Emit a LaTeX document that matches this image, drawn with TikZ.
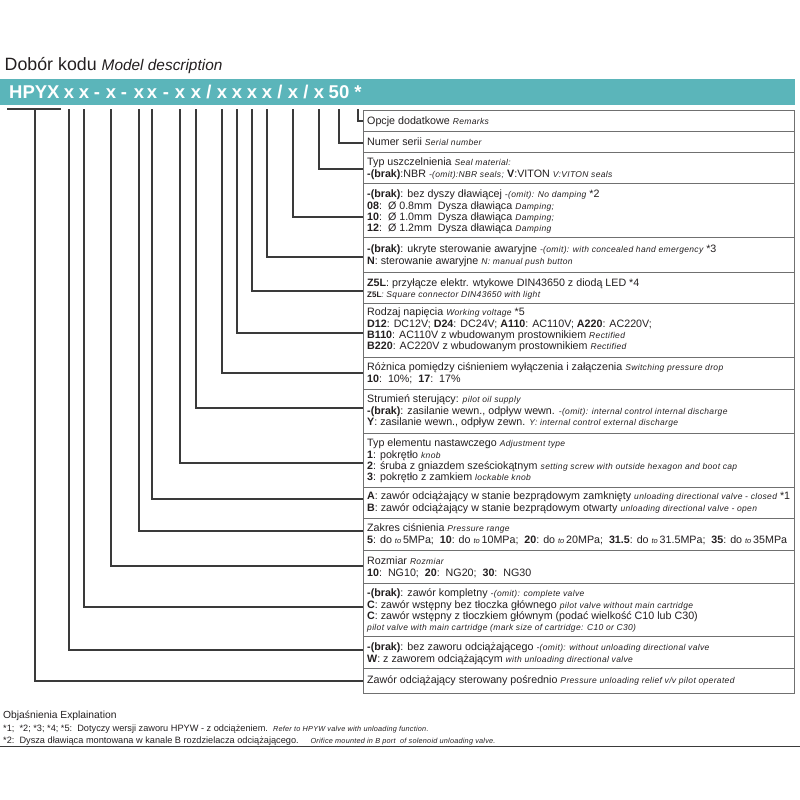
\documentclass[tikz,border=0pt]{standalone}
\usepackage{fontspec}
\setmainfont{Liberation Sans}
\newfontfamily\engfont[LetterSpace=4]{Liberation Sans}
\newfontfamily\engnfont[LetterSpace=3]{Liberation Sans}
\definecolor{bannercol}{HTML}{5BB5BA}
\definecolor{linecol}{HTML}{3A3A3A}
\definecolor{boxcol}{HTML}{707070}
\definecolor{txtcol}{HTML}{231F20}
\newcommand\eng[1]{{\engfont\fontsize{8.5}{9}\selectfont\itshape #1}}
\newcommand\engto[1]{{\fontsize{7.5}{8}\selectfont\itshape #1}}
\newcommand\engn[1]{{\engnfont\fontsize{7.3}{8}\selectfont\itshape #1}}
\tikzset{
  conn/.style={draw=linecol, line width=1.1pt},
  cell/.style={draw=boxcol, line width=0.8pt},
  rowtext/.style={anchor=base west, inner sep=0pt, text width=430pt, align=flush left, text=txtcol, font=\fontsize{10.7}{11.3}\selectfont},
  code/.style={anchor=base, inner sep=0pt, text=white, font=\fontsize{18.5}{20}\selectfont\bfseries},
  note/.style={anchor=base west, inner sep=0pt, text=txtcol, font=\fontsize{9.2}{10}\selectfont},
}
\begin{document}
\begin{tikzpicture}[x=1pt,y=-1pt]
\useasboundingbox (0,0) rectangle (800,800);
% title
\node[anchor=base west, inner sep=0pt, text=txtcol] (title) at (4.5,70.5)
  {{\fontsize{17.8}{20}\selectfont Dobór kodu}\hspace{5pt}{\fontsize{15.4}{18}\selectfont\itshape Model description}};
% banner
\fill[bannercol] (0,79) rectangle (795,105);
\node[code, anchor=base west] (h) at (9,98) {HPYX};
\foreach \nm/\xx/\tt in {c1/69/x, c2/84/x, d1/97/-, c3/111/x, d2/124/-, c4/139/x, c5/152/x, d3/166/-, c6/180/x, c7/196/x, s1/209/{/}, c8/222/x, c9/237/x, c10/252/x, c11/267/x, s2/280/{/}, c12/293/x, s3/306/{/}, c13/319/x, c14/339/50, c15/358/*}
  \node[code] (\nm) at (\xx,98) {\tt};
% cells
\foreach \a/\b in {110/131, 131/152, 152/183, 183/237, 237/272, 272/303, 303/357, 357/389, 389/433, 433/487, 487/518, 518/550, 550/583, 583/636, 636/668, 668/693}
  \draw[cell] (363,\a) rectangle (794,\b);
% row texts
\node[rowtext] (r1) at (367,124.8) {Opcje dodatkowe \eng{Remarks}};
\node[rowtext] (r2) at (367,145.8) {Numer serii \eng{Serial number}};
\node[rowtext] (r3) at (367,165.8) {Typ uszczelnienia \eng{Seal material:}\\
  \textbf{-(brak)}:NBR \eng{-(omit):NBR seals;} \textbf{V}:VITON \eng{V:VITON seals}};
\node[rowtext] (r4) at (367,197.8) {\textbf{-(brak)}: bez dyszy dławiącej \eng{-(omit): No damping} *2\\
  \textbf{08}:\ \ Ø 0.8mm\ \ Dysza dławiąca \eng{Damping;}\\
  \textbf{10}:\ \ Ø 1.0mm\ \ Dysza dławiąca \eng{Damping;}\\
  \textbf{12}:\ \ Ø 1.2mm\ \ Dysza dławiąca \eng{Damping}};
\node[rowtext] (r5) at (367,252.8) {\textbf{-(brak)}: ukryte sterowanie awaryjne \eng{-(omit): with concealed hand emergency} *3\\
  \textbf{N}: sterowanie awaryjne \eng{N: manual push button}};
\node[rowtext] (r6) at (367,286.8) {\textbf{Z5L}: przyłącze elektr. wtykowe DIN43650 z diodą LED *4\\[-1pt]
  {\fontsize{8}{8}\selectfont\textbf{Z5L}}\eng{: Square connector DIN43650 with light}};
\node[rowtext] (r7) at (367,315.8) {Rodzaj napięcia \eng{Working voltage} *5\\
  \textbf{D12}: DC12V; \textbf{D24}: DC24V; \textbf{A110}: AC110V; \textbf{A220}: AC220V;\\
  \textbf{B110}: AC110V z wbudowanym prostownikiem \eng{Rectified}\\
  \textbf{B220}: AC220V z wbudowanym prostownikiem \eng{Rectified}};
\node[rowtext] (r8) at (367,370.8) {Różnica pomiędzy ciśnieniem wyłączenia i załączenia \eng{Switching pressure drop}\\
  \textbf{10}:\ \ 10\%;\ \ \textbf{17}:\ \ 17\%};
\node[rowtext] (r9) at (367,402.8) {Strumień sterujący: \eng{pilot oil supply}\\
  \textbf{-(brak)}: zasilanie wewn., odpływ wewn. \eng{-(omit): internal control internal discharge}\\
  \textbf{Y}: zasilanie wewn., odpływ zewn. \eng{Y: internal control external discharge}};
\node[rowtext] (r10) at (367,446.8) {Typ elementu nastawczego \eng{Adjustment type}\\
  \textbf{1}: pokrętło \eng{knob}\\
  \textbf{2}: śruba z gniazdem sześciokątnym \eng{setting screw with outside hexagon and boot cap}\\
  \textbf{3}: pokrętło z zamkiem \eng{lockable knob}};
\node[rowtext] (r11) at (367,499.8) {\textbf{A}: zawór odciążający w stanie bezprądowym zamknięty \eng{unloading directional valve - closed} *1\\
  \textbf{B}: zawór odciążający w stanie bezprądowym otwarty \eng{unloading directional valve - open}};
\node[rowtext] (r12) at (367,531.8) {Zakres ciśnienia \eng{Pressure range}\\
  \textbf{5}: do \engto{to}\,5MPa;\ \ \textbf{10}: do \engto{to}\,10MPa;\ \ \textbf{20}: do \engto{to}\,20MPa;\ \ \textbf{31.5}: do \engto{to}\,31.5MPa;\ \ \textbf{35}: do \engto{to}\,35MPa};
\node[rowtext] (r13) at (367,564.8) {Rozmiar \eng{Rozmiar}\\
  \textbf{10}:\ \ NG10;\ \ \textbf{20}:\ \ NG20;\ \ \textbf{30}:\ \ NG30};
\node[rowtext] (r14) at (367,596.8) {\textbf{-(brak)}: zawór kompletny \eng{-(omit): complete valve}\\
  \textbf{C}: zawór wstępny bez tłoczka głównego \eng{pilot valve without main cartridge}\\
  \textbf{C}: zawór wstępny z tłoczkiem głównym (podać wielkość C10 lub C30)\\
  \eng{pilot valve with main cartridge (mark size of cartridge: C10 or C30)}};
\node[rowtext] (r15) at (367,650.8) {\textbf{-(brak)}: bez zaworu odciążającego \eng{-(omit): without unloading directional valve}\\
  \textbf{W}: z zaworem odciążającym \eng{with unloading directional valve}};
\node[rowtext] (r16) at (367,683.8) {Zawór odciążający sterowany pośrednio \eng{Pressure unloading relief v/v pilot operated}};
% connectors
\coordinate (vt) at (0,109);
\coordinate (hl) at (7,109);
\coordinate (hr) at (61,109);
\draw[conn] (hl) -- (hr);
\coordinate (hv) at (35,109);
\foreach \src/\yy [count=\i] in {c15/121, c14/143, c13/169, c12/217, c11/257, c10/291, c9/333, c8/373, c7/408, c6/463, c5/499, c4/531, c3/566, c2/607, c1/650}{
  \coordinate (e\i) at (363,\yy);
  \draw[conn] (\src |- vt) |- (e\i);
}
\coordinate (e16) at (363,681);
\draw[conn] (hv) |- (e16);
% notes
\node[note, font=\fontsize{10.3}{11}\selectfont] (n0) at (3,718) {Objaśnienia Explaination};
\node[note] (n1) at (3,731) {*1;\ \ *2; *3; *4; *5:\ \ Dotyczy wersji zaworu HPYW - z odciążeniem.\ \ \engn{Refer to HPYW valve with unloading function.}};
\node[note] (n2) at (3,743.5) {*2:\ \ Dysza dławiąca montowana w kanale B rozdzielacza odciążającego.\quad\ \engn{Orifice mounted in B port\ \ of solenoid unloading valve.}};
\coordinate (bl) at (0,746.5);
\coordinate (br) at (800,746.5);
\draw[draw=linecol, line width=1.4pt] (bl) -- (br);
\end{tikzpicture}
\end{document}
